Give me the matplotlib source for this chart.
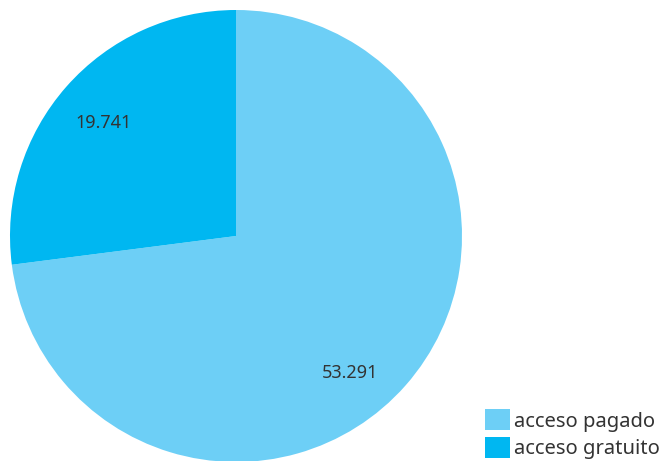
import matplotlib
matplotlib.use("Agg")
import numpy as np
import matplotlib.pyplot as plt

labels = ["acceso pagado", "acceso gratuito"]
values = [53291, 19741]
colors = ["#6dcff6", "#00b7f1"]

TEXT = "#333333"
plt.rcParams["font.family"] = ["Noto Sans", "DejaVu Sans"]

total = sum(values)


def fmt(pct):
    v = int(round(pct * total / 100.0))
    return f"{v:,}".replace(",", ".")


fig = plt.figure(figsize=(6.62, 4.61), dpi=100)
ax = fig.add_axes([10 / 662, -1 / 461, 452 / 662, 452 / 461])
wedges, texts, autotexts = ax.pie(
    values,
    colors=colors,
    startangle=90,
    counterclock=False,
    autopct=fmt,
    pctdistance=0.78,
    radius=1.0,
    textprops={"fontsize": 13, "color": TEXT},
)

# the source tool puts the big label a bit further round the slice
label_shift = [-9, 1]
label_dist = [0.79, 0.77]
for w, t, sh, d in zip(wedges, autotexts, label_shift, label_dist):
    mid = np.deg2rad((w.theta1 + w.theta2) / 2 + sh)
    t.set_position((d * np.cos(mid), d * np.sin(mid)))

ax.set_xlim(-1, 1)
ax.set_ylim(-1, 1)
ax.set_aspect("equal")

fig.legend(
    wedges, labels,
    loc="lower right",
    bbox_to_anchor=(1.0, 0.0),
    frameon=False,
    fontsize=14.5,
    handlelength=1.25,
    handleheight=1.25,
    handletextpad=0.22,
    labelspacing=0.25,
    borderpad=0.1,
    borderaxespad=0.0,
    labelcolor=TEXT,
)

fig.savefig("out.png", dpi=100)
